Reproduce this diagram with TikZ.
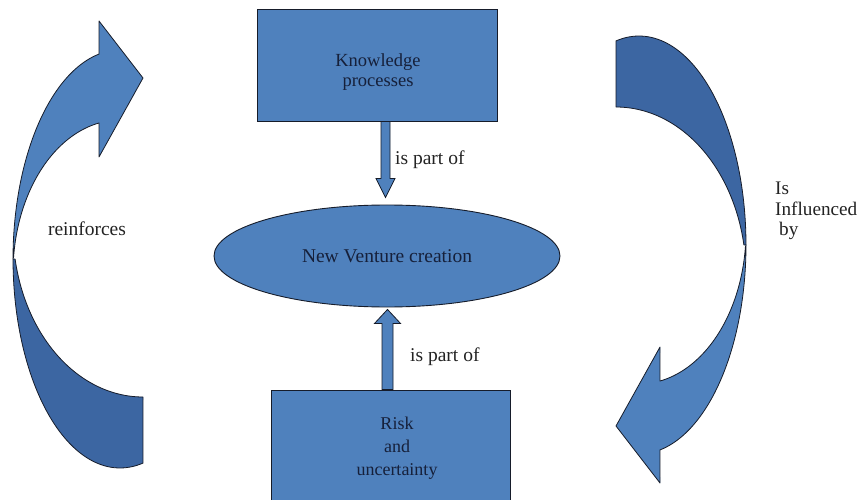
\documentclass[tikz,border=0pt]{standalone}
\usepackage{fontspec}
\setmainfont{Liberation Serif}
\usetikzlibrary{shapes.geometric,calc}
\definecolor{boxblue}{RGB}{79,129,189}
\definecolor{darkblue}{RGB}{60,102,162}
\definecolor{edgecol}{RGB}{22,28,42}
\definecolor{intext}{RGB}{22,32,58}
\definecolor{outtext}{RGB}{35,35,35}
\newcommand{\bandarrowshape}{%
  \filldraw[banddark]
    plot[domain=0:102.4,samples=60,variable=\t] ({120+107*cos(180-\t)},{259+209*sin(180-\t)})
    -- (143,397)
    -- plot[domain=90:169.7,samples=50,variable=\t] ({143+130*cos(\t)},{229+168*sin(\t)})
    -- cycle;
  \filldraw[bandlight]
    plot[domain=180:258.7,samples=50,variable=\t] ({120+107*cos(\t)},{259+209*sin(\t)})
    -- (99,21) -- (143,78) -- (99,157)
    -- plot[domain=0:72.7,samples=50,variable=\t] ({120+107*cos(258.7-\t)},{273+153*sin(258.7-\t)})
    -- cycle;
}
\begin{document}
\begin{tikzpicture}[x=1pt,y=-1pt,
  every node/.style={inner sep=0pt},
  boxnode/.style={rectangle, draw=edgecol, fill=boxblue, line width=0.9pt},
  ovalnode/.style={ellipse, draw=edgecol, fill=boxblue, line width=0.9pt, text=intext, font=\fontsize{19.5}{21}\selectfont},
  intxt/.style={text=intext, align=center},
  lbl/.style={text=outtext, font=\fontsize{19.5}{21}\selectfont},
  blockarr/.style={draw=edgecol, fill=boxblue, line width=0.8pt, line join=miter},
  bandlight/.style={draw=edgecol, fill=boxblue, line width=0.8pt, line join=round},
  banddark/.style={draw=edgecol, fill=darkblue, line width=0.8pt, line join=round}]
\fill[white] (0,0) rectangle (860,500);
\useasboundingbox (0,0) rectangle (860,500);

% curved arrows
\begin{scope}
  \bandarrowshape
\end{scope}
\begin{scope}[shift={(759,504)}, rotate=180]
  \bandarrowshape
\end{scope}

% boxes and ellipse
\node[boxnode, minimum width=240, minimum height=112] (kp) at (377,65) {};
\node[intxt, font=\fontsize{18.5}{19.5}\selectfont] (kpt) at (378,72) {Knowledge\\processes};
\node[ovalnode, minimum width=346, minimum height=102] (nv) at (387,256) {New Venture creation};
\node[boxnode, minimum width=239, minimum height=120] (rr) at (390.5,450) {};
\node[intxt, font=\fontsize{18}{23}\selectfont] (rrt) at (397,448) {Risk\\and\\uncertainty};

% block arrows
\draw[blockarr] let \p1=($(kp.south)+(8.5,0)$), \p2=($(nv.north)+(-1.5,-7)$) in
  (\x1-4.5pt,\y1) -- (\x1+4.5pt,\y1) -- (\x1+4.5pt,\y2+19pt) -- (\x1+9.5pt,\y2+19pt)
  -- (\x1,\y2) -- (\x1-9.5pt,\y2+19pt) -- (\x1-4.5pt,\y2+19pt) -- cycle;
\draw[blockarr] let \p1=($(rr.north)+(-3,0)$), \p2=($(nv.south)+(0.5,2)$) in
  (\x1-5.5pt,\y1) -- (\x1+5.5pt,\y1) -- (\x1+5.5pt,\y2-14pt) -- (\x1+13pt,\y2-14pt)
  -- (\x1,\y2) -- (\x1-13pt,\y2-14pt) -- (\x1-5.5pt,\y2-14pt) -- cycle;

% labels
\node[lbl, anchor=base west] (p1) at (395,165) {is part of};
\node[lbl, anchor=base west] (p2) at (410,361) {is part of};
\node[lbl, anchor=base] (reinf) at (87,236) {reinforces};
\node[lbl, anchor=west, align=left, font=\fontsize{19.2}{20.5}\selectfont] (infl) at (775,211) {Is\\Influenced\\\hspace{4pt}by};
\end{tikzpicture}
\end{document}
